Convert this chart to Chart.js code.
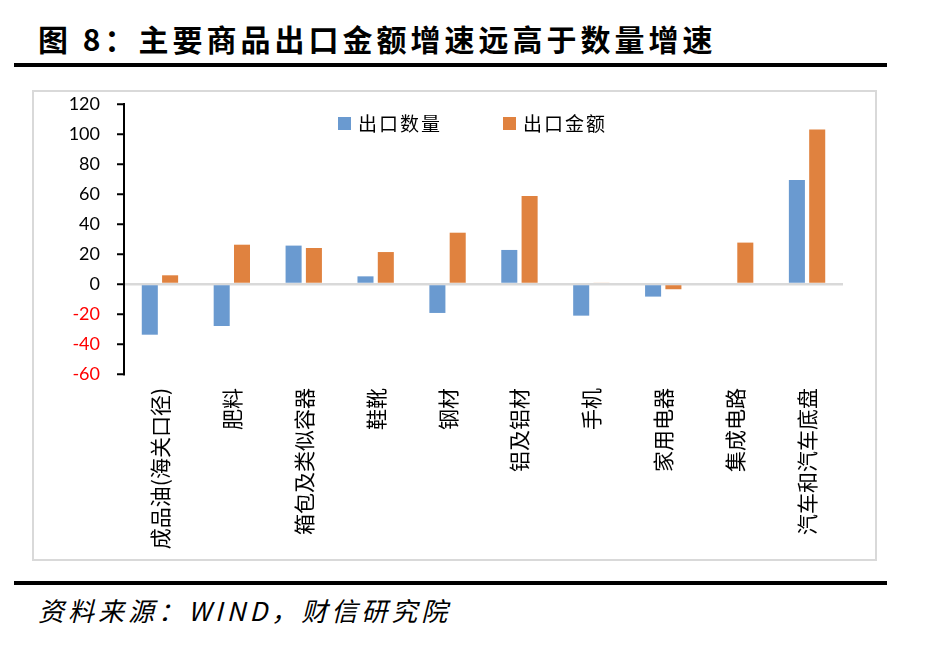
<!DOCTYPE html>
<html>
<head>
<meta charset="utf-8">
<script src="https://cdn.jsdelivr.net/npm/chart.js@4"></script>
<style>
  body { margin: 0; background: #fff; width: 932px; height: 647px; position: relative; overflow: hidden; }
  #title { position: absolute; left: 38px; top: 16px; font: bold 30px "Noto Sans CJK SC"; letter-spacing: 4px; color: #000; white-space: nowrap; }
  .rule { position: absolute; left: 14px; width: 873px; height: 4px; background: #000; }
  #frame { position: absolute; left: 32px; top: 90px; width: 845px; height: 471px; box-sizing: border-box; border: 2px solid #d9d9d9; }
  #wrap { position: absolute; left: 0; top: 0; width: 841px; height: 467px; }
  #source { position: absolute; left: 38px; top: 591px; font: italic 26px "Noto Sans CJK SC"; letter-spacing: 4px; color: #000; white-space: nowrap; }
</style>
</head>
<body>
<div id="title">图 8：主要商品出口金额增速远高于数量增速</div>
<div class="rule" style="top:63px"></div>
<div id="frame"><div id="wrap"><canvas id="barChart"></canvas></div></div>
<div class="rule" style="top:581px"></div>
<div id="source">资料来源：WIND，财信研究院</div>
<script>
const categories = ['成品油(海关口径)', '肥料', '箱包及类似容器', '鞋靴', '钢材', '铝及铝材', '手机', '家用电器', '集成电路', '汽车和汽车底盘'];
const qtyGrowth = [-33.8, -28, 25.6, 5.1, -19.3, 22.7, -21.1, -8.4, null, 69.3];
const valueGrowth = [5.8, 26.2, 24, 21.3, 34.2, 58.7, 0.9, -3.5, 27.6, 103];
const seriesNames = ['出口数量', '出口金额'];
const yTicks = [-60, -40, -20, 0, 20, 40, 60, 80, 100, 120];

// legend sits inside the plot, so draw it ourselves
const innerLegend = {
    id: 'innerLegend',
    afterDraw(chart) {
        const ctx = chart.ctx;
        const xs = [304, 469];
        ctx.save();
        ctx.font = '19px "Noto Sans CJK SC"';
        ctx.letterSpacing = '2px';
        ctx.textBaseline = 'middle';
        chart.data.datasets.forEach((ds, i) => {
            ctx.fillStyle = ds.backgroundColor;
            ctx.fillRect(xs[i], 25, 13, 13);
            ctx.fillStyle = '#000';
            ctx.fillText(ds.label, xs[i] + 20, 32);
        });
        ctx.restore();
    }
};

let ctx = document.getElementById('barChart').getContext('2d');

const data = {
    labels: categories,
    datasets: [
        { label: seriesNames[0], data: qtyGrowth, backgroundColor: '#6a9ad0' },
        { label: seriesNames[1], data: valueGrowth, backgroundColor: '#e0823f' }
    ]
};

const config = {
    type: 'bar',
    data: data,
    options: {
        responsive: true,
        maintainAspectRatio: false,
        animation: false,
        categoryPercentage: 0.565,
        barPercentage: 0.79,
        layout: { padding: { top: 12, right: 32, left: 0, bottom: 0 } },
        plugins: {
            legend: { display: false },
            tooltip: { enabled: false }
        },
        scales: {
            x: {
                grid: { display: false },
                border: { display: false },
                ticks: {
                    minRotation: 90,
                    maxRotation: 90,
                    autoSkip: false,
                    padding: 6,
                    color: '#000',
                    font: { family: '"Noto Sans CJK SC"', size: 21 }
                },
                afterFit(scale) {
                    scale.height = 185;
                    scale.paddingLeft = 0;
                    scale.paddingRight = 0;
                }
            },
            y: {
                min: yTicks[0],
                max: yTicks[yTicks.length - 1],
                afterBuildTicks(scale) { scale.ticks = yTicks.map(v => ({ value: v })); },
                grid: {
                    color: (c) => c.tick && c.tick.value === 0 ? '#d9d9d9' : 'rgba(0,0,0,0)',
                    lineWidth: 2.5,
                    tickColor: '#000',
                    tickLength: 7,
                    tickWidth: 2
                },
                border: { color: '#000', width: 2 },
                ticks: {
                    padding: 17,
                    color: (c) => c.tick.value < 0 ? '#ff0000' : '#000',
                    font: { family: 'Lato', size: 18 }
                },
                afterFit(scale) {
                    scale.width = 90;
                    scale.paddingTop = 0;
                    scale.paddingBottom = 0;
                }
            }
        }
    },
    plugins: [innerLegend]
};

new Chart(ctx, config);
</script>
</body>
</html>
